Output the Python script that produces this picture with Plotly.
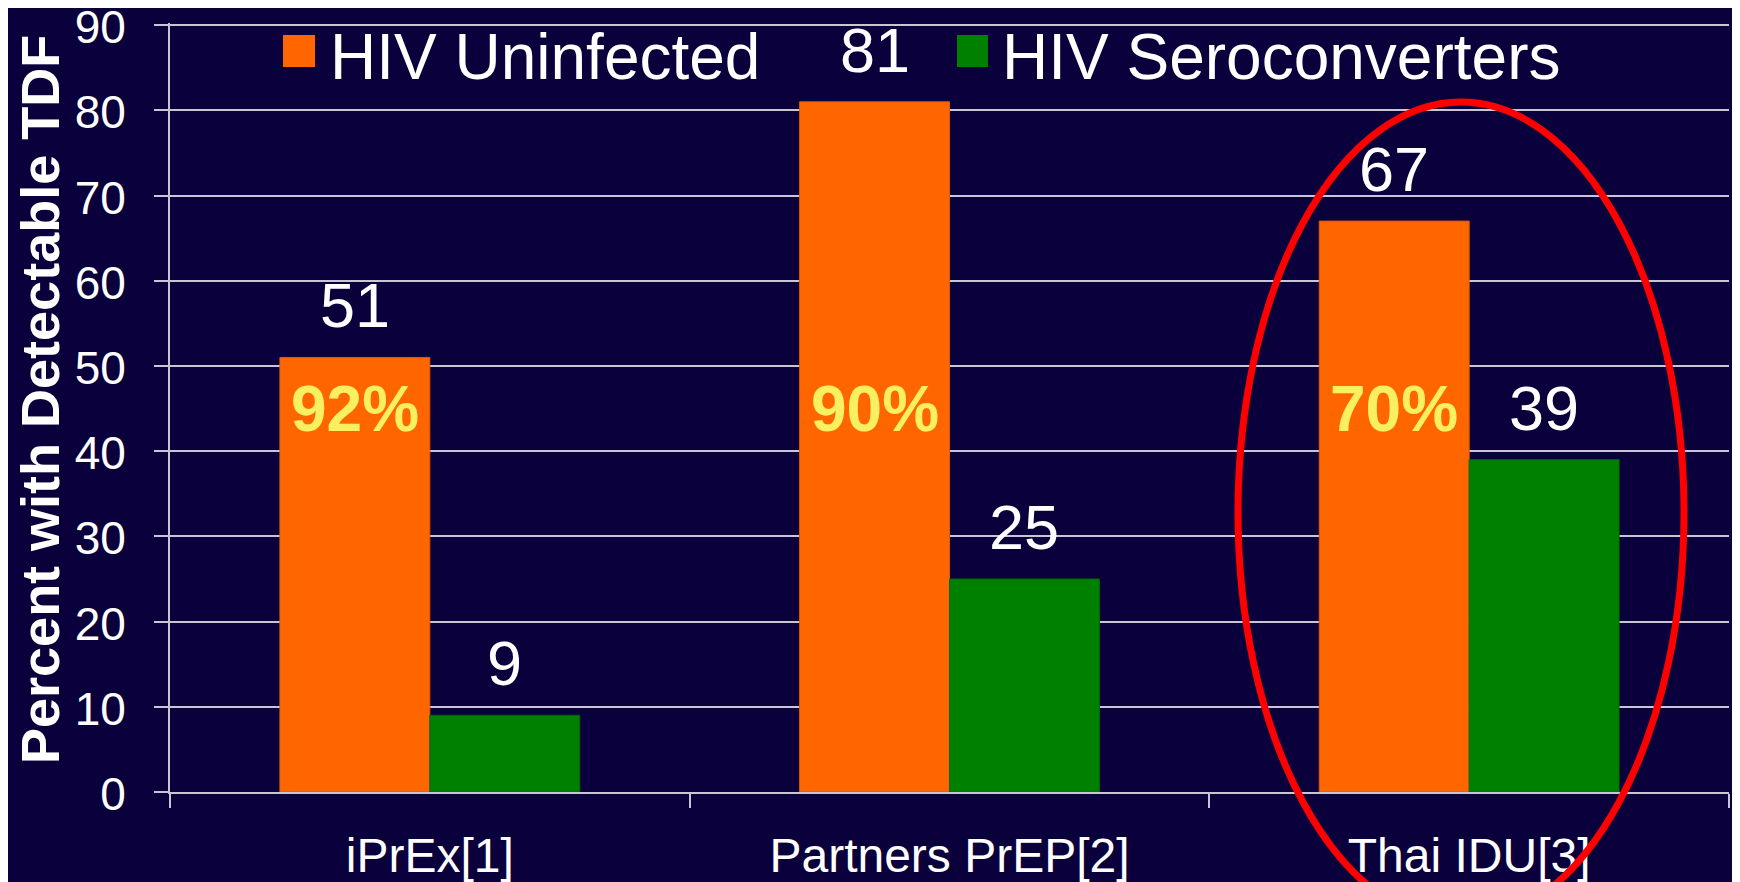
import plotly.graph_objects as go

# ---- data ----
categories = ["iPrEx[1]", "Partners PrEP[2]", "Thai IDU[3]"]
series_names = ["HIV Uninfected", "HIV Seroconverters"]
uninfected = [51, 81, 67]
seroconverters = [9, 25, 39]
inner_labels = ["92%", "90%", "70%"]
inner_label_level = 45
y_tick_values = [0, 10, 20, 30, 40, 50, 60, 70, 80, 90]
y_title = "Percent with Detectable TDF"

# ---- style ----
FONT = "Liberation Sans, Arial, sans-serif"
BG = "#0A003C"
GRID = "#C9C5D6"
COLORS = ["#FF6600", "#008000"]
EDGES = ["#D95A12", "#006A00"]
BARGAP = 0.423
W, H = 1740, 882
M = dict(l=162, r=19, t=15, b=98)

series_values = [uninfected, seroconverters]

fig = go.Figure()
for name, vals, col, edge in zip(series_names, series_values, COLORS, EDGES):
    fig.add_trace(go.Bar(
        x=categories, y=vals, name=name,
        marker=dict(color=col, line=dict(width=1, color=edge)),
        showlegend=False, hoverinfo="x+y+name",
    ))

annotations = []
half = (1 - BARGAP) / 4.0
offsets = [-half, half]
# value labels above bars
for vals, off in zip(series_values, offsets):
    for i, v in enumerate(vals):
        annotations.append(dict(
            x=i + off, y=v, xref="x", yref="y", text=str(v), showarrow=False,
            xanchor="center", yanchor="bottom", yshift=15,
            font=dict(family=FONT, size=63, color="white"),
        ))
# percentages inside orange bars
for i, t in enumerate(inner_labels):
    annotations.append(dict(
        x=i - half, y=inner_label_level, xref="x", yref="y", text=f"<b>{t}</b>",
        showarrow=False, xanchor="center", yanchor="middle",
        font=dict(family=FONT, size=64, color="#F8F060"),
    ))

# manual legend (large swatches)
pw = W - M["l"] - M["r"]
ph = H - M["t"] - M["b"]
def px_x(p):
    return (p - M["l"]) / pw
def px_y(p):
    return (H - M["b"] - p) / ph

legend_items = [(275, 307, 320), (949, 980, 992)]
shapes = []
for (sx0, sx1, tx), name, col in zip(legend_items, series_names, COLORS):
    shapes.append(dict(type="rect", xref="paper", yref="paper",
                       x0=px_x(sx0), x1=px_x(sx1), y0=px_y(59), y1=px_y(27),
                       fillcolor=col, line=dict(width=0)))
    annotations.append(dict(
        x=px_x(tx), y=px_y(49.5), xref="paper", yref="paper", text=name,
        showarrow=False, xanchor="left", yanchor="middle",
        font=dict(family=FONT, size=64, color="white"),
    ))

# y axis title
annotations.append(dict(
    x=px_x(32), y=px_y(392), xref="paper", yref="paper", text=f"<b>{y_title}</b>",
    textangle=-90, showarrow=False, xanchor="center", yanchor="middle",
    font=dict(family=FONT, size=54, color="white"),
))

# red ellipse around Thai IDU
shapes.append(dict(type="circle", xref="paper", yref="paper",
                   x0=px_x(1230), x1=px_x(1676), y0=px_y(915), y1=px_y(94),
                   line=dict(color="#FF0000", width=7), layer="above"))

fig.update_layout(
    width=W, height=H, autosize=False, margin=M,
    paper_bgcolor=BG, plot_bgcolor=BG,
    barmode="group", bargap=BARGAP, bargroupgap=0,
    font=dict(family=FONT, color="white"),
    annotations=annotations, shapes=shapes,
    showlegend=False,
)
fig.update_xaxes(
    type="category", categoryorder="array", categoryarray=categories,
    showgrid=False, showline=True, linecolor=GRID, linewidth=2,
    ticks="outside", tickson="boundaries", ticklen=14, tickwidth=2, tickcolor=GRID,
    tickfont=dict(family=FONT, size=48, color="white"),
    ticklabelstandoff=20,
    automargin=False,
)
fig.update_yaxes(
    range=[0, 90.25], tickvals=y_tick_values, showgrid=True, gridcolor=GRID, gridwidth=2,
    zeroline=False, showline=True, linecolor=GRID, linewidth=2,
    ticks="outside", ticklen=14, tickwidth=2, tickcolor=GRID,
    tickfont=dict(family=FONT, size=46, color="white"),
    ticklabelstandoff=19, ticklabelshift=2, ticklabeloverflow="allow",
    automargin=False,
)

fig.write_html("out.html")
